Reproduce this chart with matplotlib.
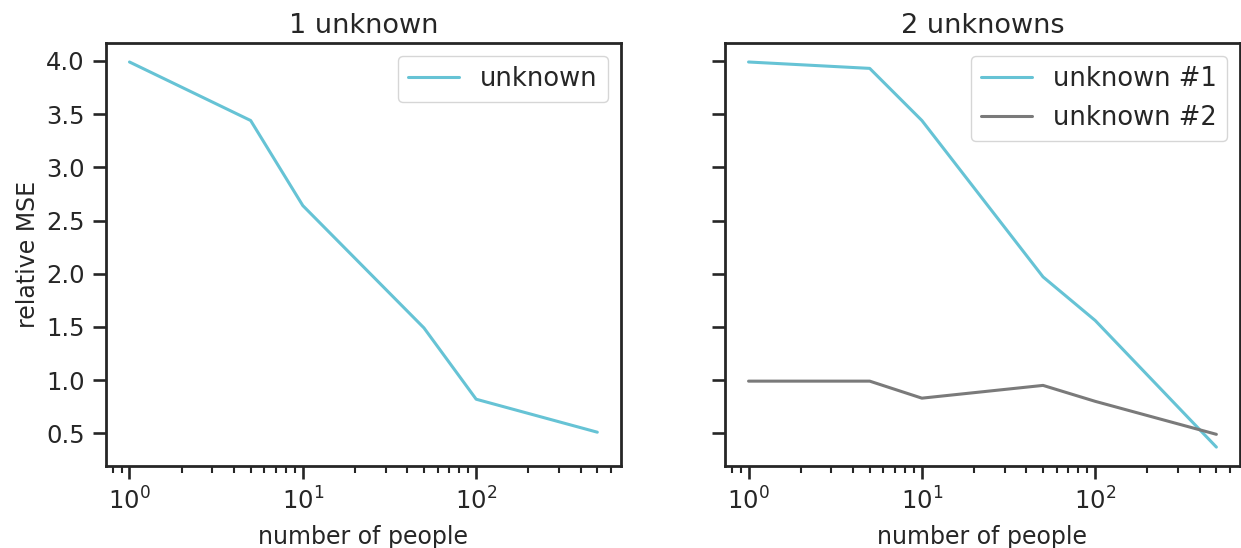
import matplotlib
matplotlib.use("Agg")
import matplotlib.pyplot as plt
import seaborn as sns

# number of people simulated and the resulting relative MSE
people = [1, 5, 10, 50, 100, 500]
mse_one = [3.99, 3.44, 2.64, 1.49, 0.82, 0.51]
mse_two_first = [3.99, 3.93, 3.44, 1.97, 1.56, 0.37]
mse_two_second = [0.99, 0.99, 0.83, 0.95, 0.80, 0.49]

titles = ["1 unknown", "2 unknowns"]
cyan = "#66c3d5"
grey = "#7a7a7a"

sns.set_style("ticks")
plt.rcParams["font.family"] = ["DejaVu Sans"]
plt.rcParams.update({
    "axes.linewidth": 2.0,
    "xtick.major.size": 9.5, "ytick.major.size": 9.5,
    "xtick.minor.size": 5.0,
    "xtick.major.width": 1.9, "ytick.major.width": 1.9,
    "xtick.minor.width": 1.5,
    "xtick.major.pad": 6, "ytick.major.pad": 6,
    "xtick.labelsize": 17.5, "ytick.labelsize": 17.5,
    "axes.labelsize": 17, "axes.titlesize": 19.5,
    "legend.fontsize": 18.5,
    "lines.linewidth": 2.2,
    "text.color": "#262626", "axes.labelcolor": "#262626",
    "xtick.color": "#262626", "ytick.color": "#262626",
})

fig, (ax1, ax2) = plt.subplots(1, 2, figsize=(12.41, 5.48), dpi=100, sharey=True)
fig.subplots_adjust(left=0.0855, right=0.999, bottom=0.149, top=0.922, wspace=0.203)

ax1.plot(people, mse_one, color=cyan, label="unknown")
ax2.plot(people, mse_two_first, color=cyan, label="unknown #1")
ax2.plot(people, mse_two_second, color=grey, label="unknown #2")

for ax, title in zip((ax1, ax2), titles):
    ax.set_xscale("log")
    ax.set_title(title, pad=7)
    ax.set_xlabel("number of people", labelpad=7)
    ax.legend(loc="upper right", handlelength=2.0)

ax1.set_ylabel("relative MSE", labelpad=4)
ax1.set_yticks([0.5, 1.0, 1.5, 2.0, 2.5, 3.0, 3.5, 4.0])

fig.savefig("out.png", dpi=100)
